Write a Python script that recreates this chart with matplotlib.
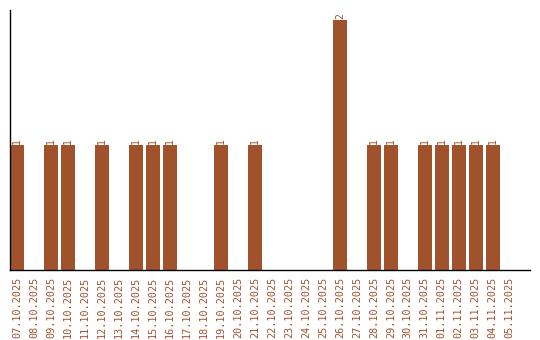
import numpy as np
import matplotlib
matplotlib.use("Agg")
import matplotlib.pyplot as plt

# daily counts, 07.10.2025 .. 05.11.2025
dates = ["07.10.2025", "08.10.2025", "09.10.2025", "10.10.2025", "11.10.2025",
         "12.10.2025", "13.10.2025", "14.10.2025", "15.10.2025", "16.10.2025",
         "17.10.2025", "18.10.2025", "19.10.2025", "20.10.2025", "21.10.2025",
         "22.10.2025", "23.10.2025", "24.10.2025", "25.10.2025", "26.10.2025",
         "27.10.2025", "28.10.2025", "29.10.2025", "30.10.2025", "31.10.2025",
         "01.11.2025", "02.11.2025", "03.11.2025", "04.11.2025", "05.11.2025"]
counts = [1, 0, 1, 1, 0, 1, 0, 1, 1, 1, 0, 0, 1, 0, 1,
          0, 0, 0, 0, 2, 0, 1, 1, 0, 1, 1, 1, 1, 1, 0]

color = "#A0522D"
font = "DejaVu Sans Mono"
width = 0.82

fig = plt.figure(figsize=(5.4, 3.4), dpi=100)
ax = fig.add_axes([10 / 540, 70 / 340, 520 / 540, 260 / 340])

x = np.arange(len(dates))
ax.bar(x, counts, width=width, align="edge", color=color)

for xi, c in zip(x, counts):
    if c > 0:
        ax.text(xi + width / 2, c + 0.01, str(c), rotation=90, ha="center", va="bottom",
                color=color, fontsize=7, family=font)

ax.set_xlim(0, 30.6)
ax.set_ylim(0, 2.08)
ax.set_xticks(x + width / 2)
ax.set_xticklabels(dates, rotation=90, color=color, fontsize=7.3, family=font)
ax.tick_params(axis="x", length=0, pad=5)
ax.set_yticks([])
ax.spines["top"].set_visible(False)
ax.spines["right"].set_visible(False)
ax.spines["left"].set_linewidth(1)
ax.spines["bottom"].set_linewidth(1)

fig.savefig("out.png", dpi=100)
